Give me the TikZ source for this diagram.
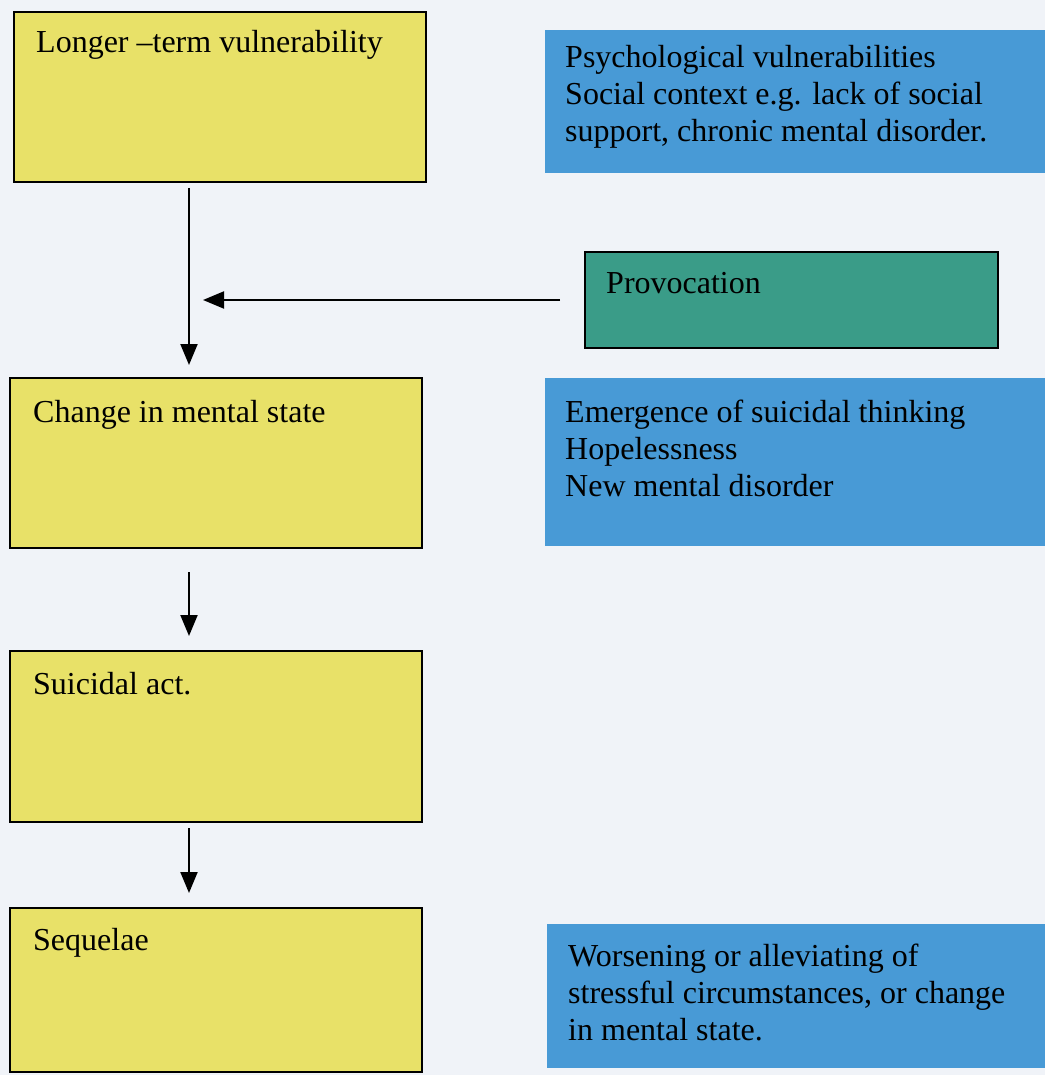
\documentclass[tikz,border=0pt]{standalone}
\usepackage{fontspec}
\setmainfont{Liberation Serif}
\usetikzlibrary{positioning,arrows.meta}

\definecolor{pagebg}{RGB}{240,243,248}
\definecolor{boxyellow}{RGB}{232,225,104}
\definecolor{boxblue}{RGB}{72,154,214}
\definecolor{boxgreen}{RGB}{58,156,136}

\tikzset{
  stage/.style={draw=black, line width=2.5pt, fill=boxyellow, anchor=north west,
    inner sep=0pt, outer sep=0pt, minimum width=412pt},
  factor/.style={fill=boxblue, anchor=north west, inner sep=0pt, outer sep=0pt,
    minimum width=500pt},
  trigger/.style={draw=black, line width=2.5pt, fill=boxgreen, anchor=north west,
    inner sep=0pt, outer sep=0pt, minimum width=413pt, minimum height=96pt},
  txt/.style={inner sep=0pt, align=left, font=\fontsize{32}{37}\selectfont},
  flow/.style={line width=2pt, -{Triangle[length=21pt,width=17pt]}}
}

\begin{document}
\begin{tikzpicture}[x=1pt,y=-1pt]
\useasboundingbox (0,0) rectangle (1045,1075);
\fill[pagebg] (0,0) rectangle (1045,1075);

% left column
\node[stage, minimum height=170pt] (vuln) at (14,12) {};
\node[stage, minimum height=170pt] (state) at (10,378) {};
\node[stage, minimum height=171pt] (act) at (10,651) {};
\node[stage, minimum height=164pt] (seq) at (10,908) {};

\node[txt, below right=18pt and 22pt of vuln.north west] (vulntxt) {Longer –term vulnerability};
\node[txt, below right=22pt and 23pt of state.north west] (statetxt) {Change in mental state};
\node[txt, below right=21pt and 23pt of act.north west] (acttxt) {Suicidal act.};
\node[txt, below right=20pt and 23pt of seq.north west] (seqtxt) {Sequelae};

% right column
\node[factor, minimum height=143pt] (psych) at (545,30) {};
\node[trigger] (prov) at (585,252) {};
\node[factor, minimum height=168pt] (mental) at (545,378) {};
\node[factor, minimum width=498pt, minimum height=144pt] (worse) at (547,924) {};

\node[txt, below right=15pt and 20pt of psych.north west] (psychtxt)
  {Psychological vulnerabilities\\Social context e.g. lack of social\\support, chronic mental disorder.};
\node[txt, below right=20pt and 21pt of prov.north west] (provtxt) {Provocation};
\node[txt, below right=22pt and 20pt of mental.north west] (mentaltxt)
  {Emergence of suicidal thinking\\Hopelessness\\New mental disorder};
\node[txt, below right=20pt and 21pt of worse.north west] (worsetxt)
  {Worsening or alleviating of\\stressful circumstances, or change\\in mental state.};

% arrows
\coordinate (spine) at (189,0);
\draw[flow, shorten <=6pt, shorten >=13pt] (vuln.south -| spine) -- (state.north -| spine);
\draw[flow, shorten <=24pt, shorten >=15pt] (state.south -| spine) -- (act.north -| spine);
\draw[flow, shorten <=6pt, shorten >=15pt] (act.south -| spine) -- (seq.north -| spine);
\draw[flow, shorten <=25pt, shorten >=14pt] (prov.west |- 0,300) -- (spine |- 0,300);
\end{tikzpicture}
\end{document}
